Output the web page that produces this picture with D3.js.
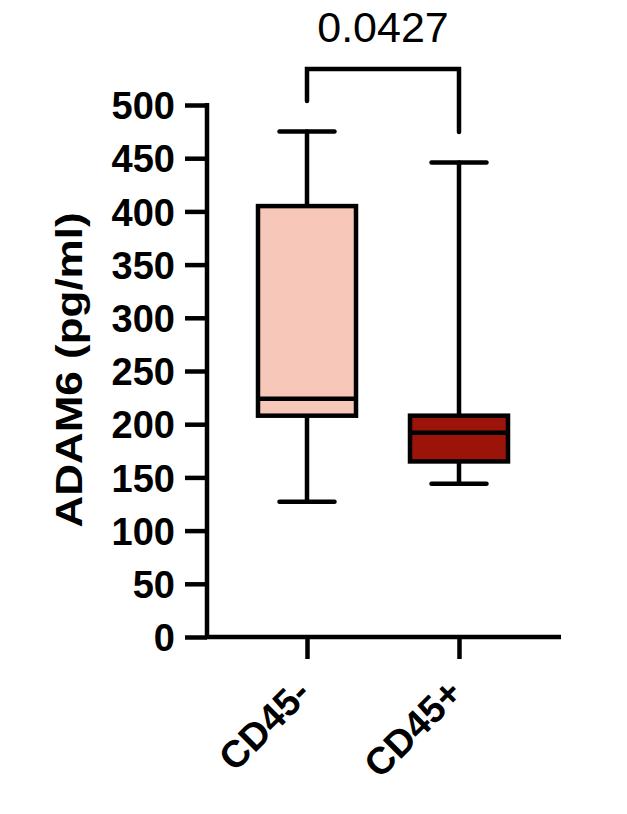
<!DOCTYPE html>
<html><head><meta charset="utf-8">
<script src="https://cdn.jsdelivr.net/npm/d3@7"></script>
<style>body{margin:0;background:#fff}</style>
</head><body>
<script>
const categories = ["CD45-", "CD45+"];
const mins    = [127, 144];
const q1s     = [208, 165];
const medians = [224, 192];
const q3s     = [405, 208];
const maxs    = [475, 446];
const fills   = ["#F7C7B9", "#9B1309"];
const yTicks  = [0,50,100,150,200,250,300,350,400,450,500];
const pLabel  = "0.0427";
const yTitle  = "ADAM6 (pg/ml)";

const W = 627, H = 814;
const svg = d3.select("body").append("svg").attr("width", W).attr("height", H);
const y = d3.scaleLinear().domain([0, 500]).range([637, 105]);
const x = d3.scalePoint().domain(categories).range([307, 459]);
const SW = 4.5, font = "'Liberation Sans', Arial, sans-serif";

// y axis
const yAxis = svg.append("g").attr("transform", "translate(207,0)")
  .call(d3.axisLeft(y).tickValues(yTicks).tickSize(22).tickPadding(10));
yAxis.select(".domain").attr("stroke", "#000").attr("stroke-width", SW).attr("d", `M0,${y(500)-2}V${y(0)}`);
yAxis.selectAll(".tick line").attr("stroke", "#000").attr("stroke-width", SW);
yAxis.selectAll(".tick text").attr("fill", "#000").attr("font-family", font)
  .attr("font-weight", "bold").attr("font-size", 38).attr("dy", "0.36em");

// x axis
const xAxis = svg.append("g").attr("transform", `translate(0,${y(0)})`)
  .call(d3.axisBottom(x).tickSize(22).tickFormat(""));
xAxis.select(".domain").attr("stroke", "#000").attr("stroke-width", SW).attr("d", `M205,0H561`);
xAxis.selectAll(".tick line").attr("stroke", "#000").attr("stroke-width", SW);
svg.append("g").selectAll("text").data(categories).join("text")
  .attr("transform", d => `translate(${x(d)-4},${y(0)+49}) rotate(-45)`)
  .attr("text-anchor", "end").attr("dy", "0.35em")
  .attr("font-family", font).attr("font-weight", "bold").attr("font-size", 38)
  .text(d => d);

// y title
svg.append("text").attr("transform", `translate(82,370) rotate(-90) scale(1,0.82)`)
  .attr("text-anchor", "middle").attr("font-family", font).attr("font-weight", "bold")
  .attr("font-size", 44).text(yTitle);

// boxes
const bw = 98, cw = 55;
const g = svg.append("g").attr("stroke", "#000").attr("stroke-width", SW).attr("stroke-linecap", "round");
categories.forEach((c, i) => {
  const cx = x(c);
  g.append("line").attr("x1", cx).attr("x2", cx).attr("y1", y(maxs[i])).attr("y2", y(q3s[i]));
  g.append("line").attr("x1", cx).attr("x2", cx).attr("y1", y(q1s[i])).attr("y2", y(mins[i]));
  g.append("line").attr("x1", cx - cw/2).attr("x2", cx + cw/2).attr("y1", y(maxs[i])).attr("y2", y(maxs[i]));
  g.append("line").attr("x1", cx - cw/2).attr("x2", cx + cw/2).attr("y1", y(mins[i])).attr("y2", y(mins[i]));
  g.append("rect").attr("x", cx - bw/2).attr("width", bw).attr("y", y(q3s[i]))
    .attr("height", y(q1s[i]) - y(q3s[i])).attr("fill", fills[i]).attr("stroke-linecap", "butt");
  g.append("line").attr("x1", cx - bw/2).attr("x2", cx + bw/2).attr("y1", y(medians[i])).attr("y2", y(medians[i])).attr("stroke-linecap", "butt");
});

// significance bracket
const by = 69;
svg.append("path").attr("fill", "none").attr("stroke", "#000").attr("stroke-width", SW)
  .attr("stroke-linecap", "round").attr("stroke-linejoin", "miter")
  .attr("d", `M${x(categories[0])},101V${by}H${x(categories[1])}V132`);
svg.append("text").attr("x", (x(categories[0]) + x(categories[1])) / 2).attr("y", 42)
  .attr("text-anchor", "middle").attr("font-family", font).attr("font-size", 43).text(pLabel);
</script>
</body></html>
